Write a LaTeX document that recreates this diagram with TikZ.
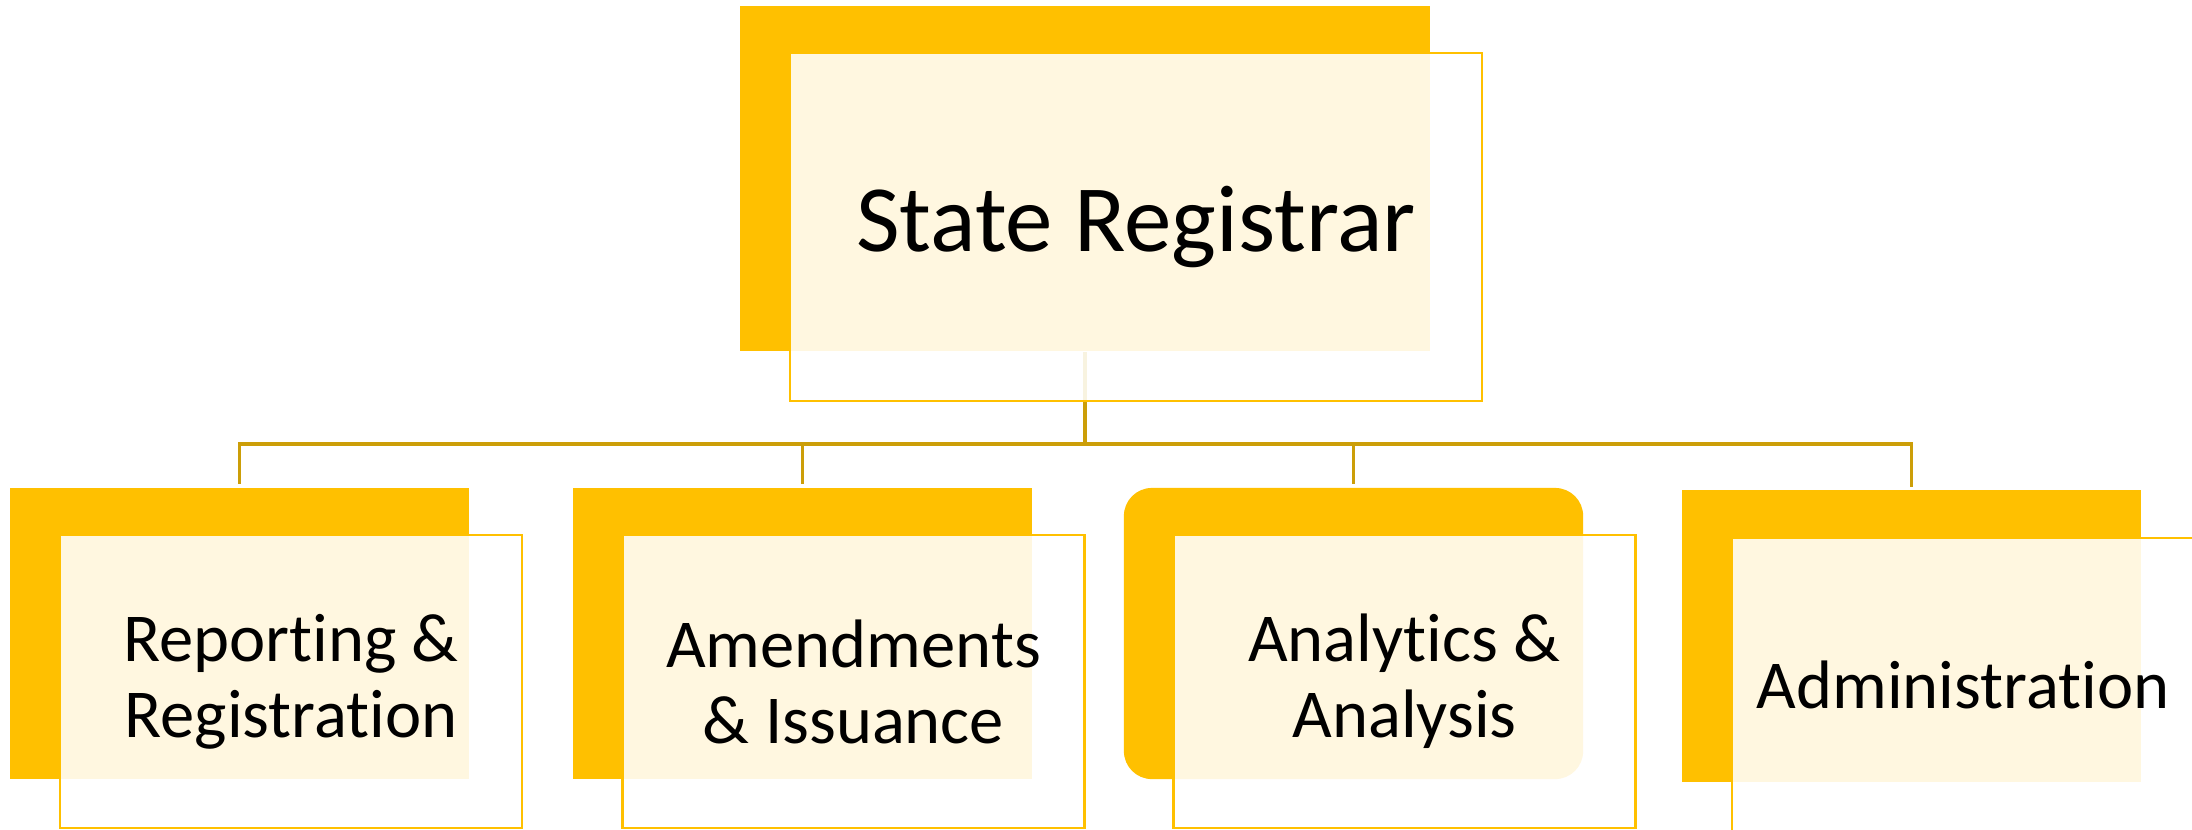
\documentclass[tikz,border=0pt]{standalone}
\usepackage{fontspec}
\setmainfont{Carlito}[Ligatures=NoCommon]
\usetikzlibrary{positioning}
\definecolor{gold}{RGB}{255,192,0}
\definecolor{darkgold}{RGB}{204,158,8}

\begin{document}
\begin{tikzpicture}[x=0.01cm, y=-0.01cm]
    \tikzstyle{back} = [rectangle, fill=gold, minimum width=4.59cm, minimum height=2.91cm, inner sep=0pt]
    \tikzstyle{card} = [rectangle, draw=gold, line width=0.7pt, fill=white, fill opacity=0.88, text opacity=1, minimum width=4.62cm, minimum height=2.93cm, inner sep=0pt, align=center, font=\fontsize{19.5}{21.6}\selectfont]
    \tikzstyle{link} = [draw=darkgold, line width=1pt]

    \useasboundingbox (0,0) rectangle (2192,829);

    % yellow blocks behind
    \node [back, minimum width=6.9cm, minimum height=3.45cm] (head) at (1085,178.5) {};
    \node [back] (report) at (239.5,633.5) {};
    \node [back] (amend) at (802.5,633.5) {};
    \node [back, rounded corners=0.28cm] (analytics) at (1353.5,633.5) {};
    \node [back] (admin) at (1911.5,636) {};

    % connectors first, so the cards fade them
    \coordinate (hub) at (1085,444);
    \draw [link, shorten >=0.03cm] (head.south) -- (hub) -| (report.north);
    \draw [link, shorten >=0.03cm] (hub) -| (amend.north);
    \draw [link, shorten >=0.03cm] (hub) -| (analytics.north);
    \draw [link, shorten >=0.03cm] (hub) -| (admin.north);

    % front cards with the labels
    \node [card, minimum width=6.92cm, minimum height=3.48cm, font=\fontsize{27}{32}\selectfont] (headcard) at (1136,227) {State Registrar};
    \node [card] (reportcard) at (291,681.5) {Reporting \&\\Registration};
    \node [card] (amendcard) at (853.5,681.5) {Amendments\\\& Issuance};
    \node [card] (analyticscard) at (1404.5,681.5) {Analytics \&\\Analysis};
    \node [card] (admincard) at (1963,684.5) {Administration};
\end{tikzpicture}
\end{document}
